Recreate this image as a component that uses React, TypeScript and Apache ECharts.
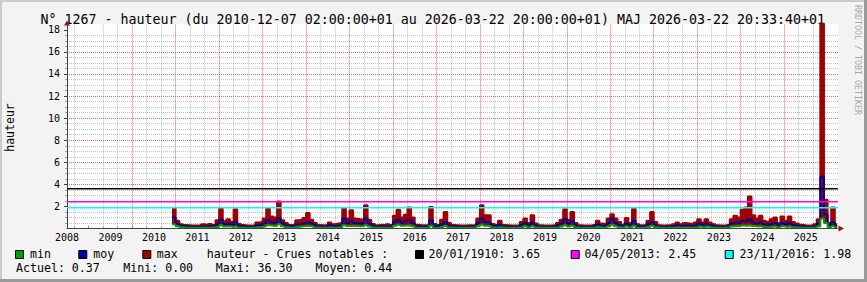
import React, { useEffect, useRef } from 'react';
import * as echarts from 'echarts';

// ---- data (monthly samples, first sample = December 2010) ----
const startYear = 2010;
const startMonth = 12;
const dataEnd = 2026.22; // 2026-03-22
const axisStart = 2008.5;
const axisEnd = 2026.24;

const maxV = [
  1.85, 0.7, 0.4, 0.32, 0.3, 0.28, 0.28, 0.3, 0.38, 0.32,
  0.42, 0.32, 0.75, 1.85, 0.65, 0.85, 0.6, 1.75, 0.42, 0.32,
  0.28, 0.28, 0.3, 0.55, 0.6, 0.9, 1.85, 1.1, 1.0, 2.45,
  0.75, 0.5, 0.32, 0.32, 0.75, 0.8, 0.95, 1.4, 0.8, 0.5,
  0.32, 0.3, 0.3, 0.55, 0.4, 0.45, 0.5, 1.85, 0.9, 1.65,
  0.9, 0.85, 0.8, 2.1, 0.8, 0.42, 0.3, 0.35, 0.3, 0.4,
  0.32, 1.15, 1.7, 1.0, 1.25, 1.9, 1.0, 0.35, 0.3, 0.3,
  0.32, 1.95, 0.42, 0.32, 0.8, 1.5, 0.5, 0.32, 0.3, 0.28,
  0.28, 0.3, 0.3, 0.32, 0.9, 2.1, 1.2, 1.2, 0.42, 0.35,
  0.7, 0.32, 0.3, 0.28, 0.28, 0.3, 0.6, 0.9, 0.5, 1.2,
  0.45, 0.3, 0.28, 0.28, 0.28, 0.32, 0.5, 0.8, 1.75, 0.8,
  1.5, 0.5, 0.3, 0.28, 0.28, 0.3, 0.35, 0.7, 0.45, 0.4,
  0.9, 1.3, 0.9, 0.6, 0.35, 0.95, 0.5, 1.8, 0.4, 0.3,
  0.3, 0.7, 1.5, 0.6, 0.3, 0.28, 0.3, 0.32, 0.4, 0.55,
  0.4, 0.5, 0.45, 0.4, 0.55, 0.85, 0.55, 0.85, 0.55, 0.4,
  0.3, 0.28, 0.3, 0.35, 0.85, 1.15, 1.0, 1.7, 1.9, 2.9,
  1.2, 0.9, 1.15, 0.7, 0.6, 0.85, 1.0, 0.5, 1.1, 0.7,
  1.1, 0.6, 0.45, 0.35, 0.3, 0.28, 0.3, 0.4, 0.85, 36.3,
  2.6, 0.5, 1.9, 0.4,
];

const moyV = [
  1.0, 0.4, 0.25, 0.2, 0.18, 0.17, 0.17, 0.17, 0.22, 0.19,
  0.24, 0.19, 0.4, 0.85, 0.4, 0.45, 0.35, 0.6, 0.25, 0.19,
  0.17, 0.17, 0.18, 0.3, 0.35, 0.5, 0.75, 0.55, 0.5, 0.95,
  0.45, 0.3, 0.2, 0.19, 0.4, 0.45, 0.5, 0.6, 0.45, 0.28,
  0.19, 0.18, 0.18, 0.3, 0.24, 0.25, 0.28, 0.9, 0.5, 0.7,
  0.5, 0.45, 0.45, 0.9, 0.45, 0.25, 0.18, 0.2, 0.18, 0.22,
  0.19, 0.6, 0.8, 0.55, 0.65, 0.8, 0.5, 0.2, 0.18, 0.18,
  0.19, 0.75, 0.24, 0.19, 0.4, 0.6, 0.28, 0.19, 0.18, 0.17,
  0.17, 0.17, 0.18, 0.19, 0.5, 0.9, 0.6, 0.55, 0.25, 0.2,
  0.35, 0.19, 0.18, 0.17, 0.17, 0.18, 0.32, 0.5, 0.28, 0.55,
  0.25, 0.18, 0.17, 0.17, 0.17, 0.19, 0.28, 0.45, 0.85, 0.45,
  0.65, 0.28, 0.18, 0.17, 0.17, 0.18, 0.2, 0.38, 0.25, 0.22,
  0.5, 0.9, 0.5, 0.32, 0.2, 0.45, 0.28, 0.7, 0.22, 0.18,
  0.18, 0.38, 0.6, 0.3, 0.18, 0.17, 0.18, 0.19, 0.22, 0.3,
  0.22, 0.28, 0.25, 0.22, 0.3, 0.45, 0.3, 0.45, 0.3, 0.22,
  0.18, 0.17, 0.18, 0.2, 0.45, 0.55, 0.5, 0.7, 0.65, 0.85,
  0.55, 0.45, 0.55, 0.38, 0.32, 0.42, 0.5, 0.28, 0.5, 0.38,
  0.5, 0.32, 0.25, 0.2, 0.18, 0.17, 0.18, 0.22, 0.45, 4.7,
  1.3, 0.3, 0.6, 0.22,
];

const minV = [
  0.4, 0.2, 0.12, 0.08, 0.08, 0.08, 0.08, 0.08, 0.1, 0.08,
  0.1, 0.08, 0.15, 0.3, 0.18, 0.2, 0.15, 0.2, 0.1, 0.07,
  0.07, 0.07, 0.07, 0.12, 0.15, 0.2, 0.3, 0.25, 0.22, 0.4,
  0.2, 0.12, 0.08, 0.08, 0.15, 0.18, 0.22, 0.25, 0.2, 0.1,
  0.07, 0.07, 0.07, 0.1, 0.08, 0.1, 0.1, 0.3, 0.22, 0.25,
  0.22, 0.2, 0.2, 0.3, 0.18, 0.1, 0.07, 0.08, 0.07, 0.08,
  0.07, 0.25, 0.35, 0.25, 0.28, 0.3, 0.2, 0.08, 0.07, 0.07,
  0.07, 0.25, 0.08, 0.07, 0.15, 0.22, 0.1, 0.07, 0.07, 0.07,
  0.07, 0.07, 0.07, 0.07, 0.2, 0.35, 0.25, 0.22, 0.1, 0.08,
  0.12, 0.07, 0.07, 0.07, 0.07, 0.07, 0.12, 0.2, 0.1, 0.2,
  0.1, 0.07, 0.07, 0.07, 0.07, 0.07, 0.1, 0.18, 0.3, 0.18,
  0.25, 0.1, 0.07, 0.07, 0.07, 0.07, 0.07, 0.14, 0.1, 0.08,
  0.18, 0.35, 0.2, 0.12, 0.08, 0.18, 0.1, 0.25, 0.08, 0.07,
  0.07, 0.14, 0.25, 0.12, 0.07, 0.07, 0.07, 0.07, 0.08, 0.12,
  0.08, 0.1, 0.1, 0.08, 0.12, 0.18, 0.12, 0.18, 0.12, 0.08,
  0.07, 0.07, 0.07, 0.07, 0.18, 0.22, 0.2, 0.28, 0.25, 0.3,
  0.22, 0.18, 0.22, 0.15, 0.12, 0.16, 0.2, 0.1, 0.2, 0.14,
  0.2, 0.12, 0.1, 0.07, 0.07, 0.07, 0.07, 0.08, 0.18, 0.9,
  0.5, 0.12, 0.2, 0.08,
];

const yearLabels = ['2008', '2009', '2010', '2011', '2012', '2013', '2014', '2015', '2016',
  '2017', '2018', '2019', '2020', '2021', '2022', '2023', '2024', '2025'];
const yTickLabels = [2, 4, 6, 8, 10, 12, 14, 16, 18];

const notableDates = ['20/01/1910', '04/05/2013', '23/11/2016'];
const notableValues = [3.65, 2.45, 1.98];
const notableColors = ['#000000', '#ff00ff', '#00ffff'];

const statLabels = ['Actuel', 'Mini', 'Maxi', 'Moyen'];
const statValues = ['0.37', '0.00', '36.30', '0.44'];

const title = 'N° 1267 - hauteur (du 2010-12-07 02:00:00+01 au 2026-03-22 20:00:00+01) MAJ 2026-03-22 20:33:40+01';

const FONT = "'DejaVu Sans Mono', monospace";

function monthTime(i: number) {
  return startYear + (startMonth - 1 + i) / 12;
}
function toSeries(vals: number[]) {
  const d = vals.map((v, i) => [monthTime(i), v]);
  d.push([dataEnd, vals[vals.length - 1]]);
  return d;
}

export default function App() {
  const ref = useRef<HTMLDivElement>(null);
  useEffect(() => {
    if (!ref.current) return;
    const chart = echarts.init(ref.current, null, { renderer: 'svg' });

    const txt = (x: number, y: number, text: string, size: number, extra: any = {}) => ({
      type: 'text', x, y, silent: true,
      style: { text, fontSize: size, fontFamily: FONT, fill: '#000', align: 'left', verticalAlign: 'middle', ...(extra.style || {}) },
      ...(extra.el || {}),
    });
    const box = (x: number, y: number, color: string) => ({
      type: 'rect', silent: true,
      shape: { x: x + 0.5, y: y + 0.5, width: 8, height: 8 },
      style: { fill: color, stroke: '#000', lineWidth: 1 },
    });

    const row1 = 254;
    const row2 = 268;
    const statX = [16, 123.3, 215.7, 315.5];
    const notableBoxX = [415, 570.7, 724.7];
    const notableTextX = [428.5, 584.5, 739.5];

    const graphic: any[] = [
      { type: 'rect', silent: true, shape: { x: 0, y: 0, width: 867, height: 2 }, style: { fill: '#cbcbcb' } },
      { type: 'rect', silent: true, shape: { x: 0, y: 0, width: 2, height: 282 }, style: { fill: '#cbcbcb' } },
      { type: 'rect', silent: true, shape: { x: 0, y: 279, width: 867, height: 3 }, style: { fill: '#9a9a9a' } },
      { type: 'rect', silent: true, shape: { x: 864, y: 0, width: 3, height: 282 }, style: { fill: '#9a9a9a' } },
      txt(40.5, 19.2, title, 13.3),
      txt(10, 127.5, 'hauteur', 11.5, { style: { align: 'center' }, el: { rotation: Math.PI / 2 } }),
      txt(857.5, 60, 'RRDTOOL / TOBI OETIKER', 8.3, { style: { align: 'center', fill: '#a8a8a8' }, el: { rotation: -Math.PI / 2 } }),
      // axis arrows
      { type: 'polygon', silent: true, shape: { points: [[838.5, 225.5], [838.5, 231.5], [844, 228.5]] }, style: { fill: '#a01010' } },
      { type: 'polygon', silent: true, shape: { points: [[64, 25.5], [70, 25.5], [67, 20.5]] }, style: { fill: '#a01010' } },
      // legend row 1
      box(15, 250, '#00a000'), txt(30, row1, 'min', 11.6),
      box(78.3, 250, '#0000a0'), txt(93.3, row1, 'moy', 11.6),
      box(142.3, 250, '#a00000'), txt(156.7, row1, 'max', 11.6),
      txt(206.7, row1, 'hauteur - Crues notables :', 11.6),
    ];
    notableDates.forEach((d, i) => {
      graphic.push(box(notableBoxX[i], 250, notableColors[i]));
      graphic.push(txt(notableTextX[i], row1, `${d}: ${notableValues[i].toFixed(2)}`, 11.6));
    });
    statLabels.forEach((l, i) => {
      graphic.push(txt(statX[i], row2, `${l}: ${statValues[i]}`, 11.6));
    });

    const gridRed = { color: 'rgba(255,30,30,0.7)', type: [1, 1], width: 1 };
    const gridGray = { color: 'rgba(120,120,120,0.45)', type: [1, 1], width: 1 };

    const option: any = {
      animation: false,
      backgroundColor: '#f3f3f3',
      grid: {
        left: 67, right: 29, top: 24.31, bottom: 53.45,
        show: true, backgroundColor: '#ffffff', borderWidth: 0,
      },
      xAxis: {
        type: 'value',
        z: 0,
        min: axisStart,
        max: axisEnd,
        minInterval: 1,
        maxInterval: 1,
        axisLine: { show: true, lineStyle: { color: '#404040', width: 1 } },
        axisTick: {
          show: true, inside: true, length: 3,
          customValues: yearLabels.map((y) => Number(y) + 1),
          lineStyle: { color: '#ff6060' },
        },
        minorTick: { show: true, splitNumber: 3, length: 2, lineStyle: { color: '#a0a0a0' } },
        axisLabel: {
          customValues: yearLabels.map((y) => Number(y) + 0.5),
          formatter: (v: number) => String(Math.floor(v)),
          fontFamily: FONT, fontSize: 10, color: '#000', margin: 4,
          showMinLabel: true, showMaxLabel: true,
        },
        splitLine: { show: true, showMinLine: false, showMaxLine: false, lineStyle: gridRed },
        minorSplitLine: { show: true, lineStyle: gridGray },
      },
      yAxis: {
        type: 'value',
        z: 0,
        min: 0,
        max: 18.5,
        interval: 2,
        axisLine: { show: true, lineStyle: { color: '#404040', width: 1 } },
        axisTick: { show: true, length: 3, customValues: yTickLabels, lineStyle: { color: '#404040' } },
        minorTick: { show: true, splitNumber: 4, length: 2, lineStyle: { color: '#a0a0a0' } },
        axisLabel: {
          customValues: yTickLabels,
          formatter: (v: number) => String(v),
          fontFamily: FONT, fontSize: 10, color: '#000', margin: 7,
        },
        splitLine: { show: true, showMinLine: false, showMaxLine: false, lineStyle: gridRed },
        minorSplitLine: { show: true, lineStyle: gridGray },
      },
      series: [
        {
          name: 'max', type: 'line', step: 'end', symbol: 'none', z: 2,
          data: toSeries(maxV),
          lineStyle: { color: '#a00000', width: 2 },
          areaStyle: { color: '#a00000', opacity: 1 },
        },
        {
          name: 'moy', type: 'line', step: 'end', symbol: 'none', z: 3,
          data: toSeries(moyV),
          lineStyle: { color: '#0000a0', width: 2 },
        },
        {
          name: 'min', type: 'line', step: 'end', symbol: 'none', z: 4,
          data: toSeries(minV),
          lineStyle: { color: '#00a000', width: 2 },
          areaStyle: { color: '#ffffff', opacity: 1 },
          markLine: {
            silent: true,
            symbol: ['none', 'none'],
            label: { show: false },
            lineStyle: { color: '#404040', width: 1, type: 'solid' },
            data: [{ yAxis: 0 }],
          },
        },
      ],
      graphic,
    };
    chart.setOption(option);

    // notable-flood rules: positions from the chart's own y scale
    const x0 = chart.convertToPixel({ xAxisIndex: 0 }, axisStart) as number;
    const x1 = chart.convertToPixel({ xAxisIndex: 0 }, axisEnd) as number;
    const rules = notableValues.map((v, i) => {
      const py = Math.floor((chart.convertToPixel({ yAxisIndex: 0 }, v) as number) + 0.35);
      return {
        type: 'rect', silent: true, zlevel: 1, z: 100,
        shape: { x: x0, y: py, width: x1 - x0, height: 1.6 },
        style: { fill: notableColors[i] },
      };
    });
    chart.setOption({ graphic: [...graphic, ...rules] });

    return () => chart.dispose();
  }, []);

  return (
    <div
      ref={ref}
      style={{ position: 'absolute', left: 0, top: 0, width: 867, height: 282 }}
    />
  );
}
